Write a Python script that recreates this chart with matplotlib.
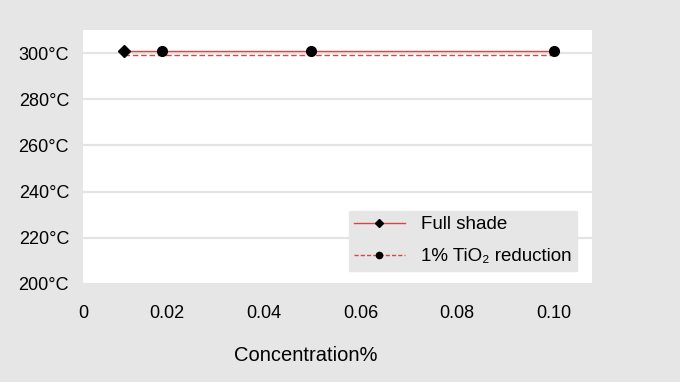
import matplotlib.pyplot as plt
from matplotlib.lines import Line2D

plt.rcParams['font.family'] = ['Liberation Sans', 'DejaVu Sans']

# data
conc = [0.011, 0.019, 0.0497, 0.100]
full_shade = [300.9, 300.9, 300.9, 300.9]
tio2_red = [299.2, 299.2, 299.2, 299.2]

y_ticks = [200, 220, 240, 260, 280, 300]
x_ticks = [0.02, 0.04, 0.06, 0.08, 0.10]
x_labels = ['0.02', '0.04', '0.06', '0.08', '0.10']

bg = '#e6e6e6'
red = '#d44848'
fig = plt.figure(figsize=(6.8, 3.82), dpi=100, facecolor=bg)
ax = fig.add_axes([83/680, 1-284/382, 509/680, 254/382])
ax.set_facecolor('white')

xmin, xmax = 0.0026, 0.1079
ax.set_xlim(xmin, xmax)
ax.set_ylim(200, 310)

ax.plot(conc, tio2_red, color=red, lw=1.0, ls=(0, (4, 2)), zorder=3)
ax.plot(conc, full_shade, color=red, lw=1.0, zorder=3)
# first point is drawn as a diamond, the rest as dots
ax.plot(conc[:1], full_shade[:1], ls='none', marker='D', ms=6,
        mfc='black', mec='black', zorder=4)
ax.plot(conc[1:], full_shade[1:], ls='none', marker='o', ms=7,
        mfc='black', mec='black', zorder=4)

ax.set_yticks(y_ticks)
ax.set_yticklabels([f'{v}°C' for v in y_ticks])
ax.set_xticks([xmin] + x_ticks)
ax.set_xticklabels(['0'] + x_labels)
ax.tick_params(length=0, labelsize=13, colors='black')
ax.tick_params(axis='x', pad=15)
ax.tick_params(axis='y', pad=10)
ax.grid(axis='y', color='#e4e4e4', lw=1.6)
ax.set_axisbelow(True)
for s in ax.spines.values():
    s.set_visible(False)

ax.set_xlabel('Concentration%', fontsize=14.5)
ax.xaxis.set_label_coords(0.438, -0.245)

handles = [
    Line2D([], [], color=red, lw=1.0, marker='D', ms=4, mfc='black', mec='black'),
    Line2D([], [], color=red, lw=1.0, ls=(0, (3, 1.5)), marker='o', ms=4.5,
           mfc='black', mec='black'),
]
leg = ax.legend(handles, ['Full shade', '1% TiO₂ reduction'], loc='lower right',
                bbox_to_anchor=(0.9705, 0.051), frameon=True, fontsize=13.5,
                handlelength=2.7, borderpad=0.3, borderaxespad=0,
                labelspacing=0.8, handletextpad=0.85, fancybox=False)
leg.get_frame().set_facecolor(bg)
leg.get_frame().set_edgecolor(bg)
leg.get_frame().set_alpha(1)

fig.savefig('out.png', dpi=100, facecolor=bg)
